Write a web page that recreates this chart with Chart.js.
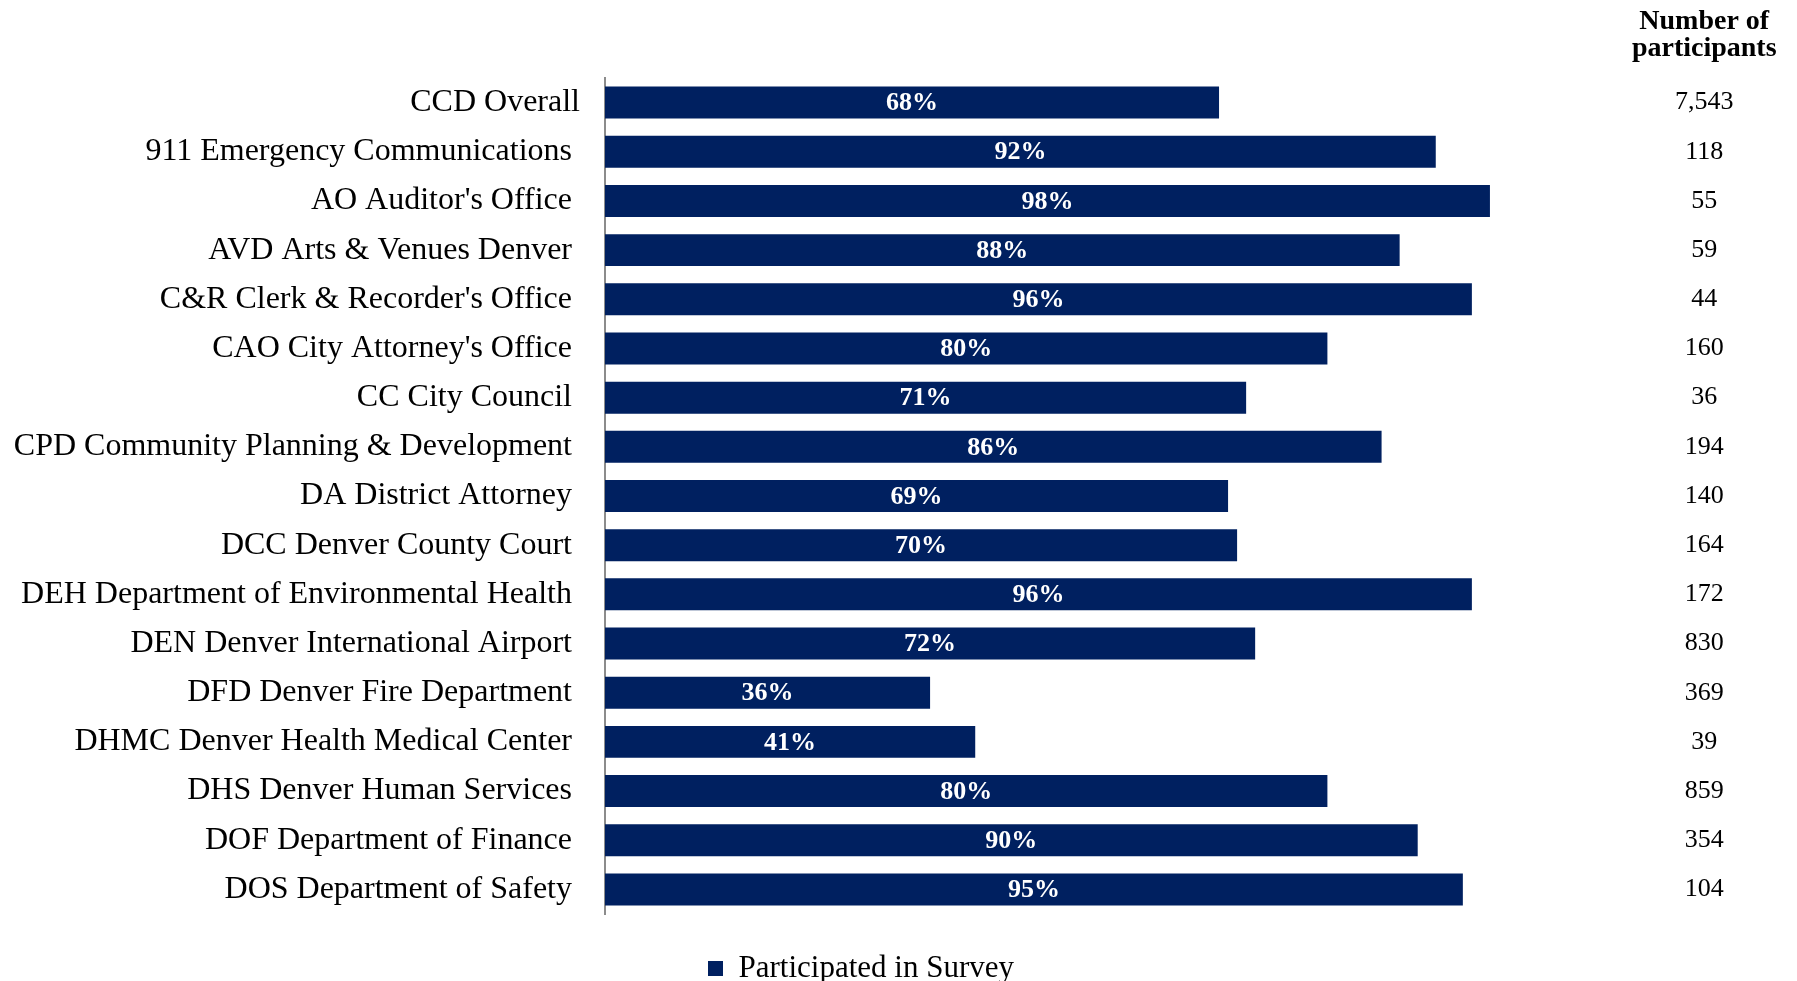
<!DOCTYPE html>
<html>
<head>
<meta charset="utf-8">
<script src="https://cdn.jsdelivr.net/npm/chart.js@4.4.1/dist/chart.umd.min.js"></script>
<style>
  html, body { margin: 0; padding: 0; background: #fff; }
  #wrap { width: 1797px; height: 981px; }
</style>
</head>
<body>
<div id="wrap"><canvas id="surveyChart"></canvas></div>
<script>
  // departments (trailing space kept where the source had it)
  var departments = [
      'CCD Overall',
      '911 Emergency Communications ',
      "AO Auditor's Office ",
      'AVD Arts & Venues Denver ',
      "C&R Clerk & Recorder's Office ",
      "CAO City Attorney's Office ",
      'CC City Council ',
      'CPD Community Planning & Development ',
      'DA District Attorney ',
      'DCC Denver County Court ',
      'DEH Department of Environmental Health ',
      'DEN Denver International Airport ',
      'DFD Denver Fire Department ',
      'DHMC Denver Health Medical Center ',
      'DHS Denver Human Services ',
      'DOF Department of Finance ',
      'DOS Department of Safety '
  ];
  var participated = [68, 92, 98, 88, 96, 80, 71, 86, 69, 70, 96, 72, 36, 41, 80, 90, 95];
  var participants = ['7,543', '118', '55', '59', '44', '160', '36', '194', '140', '164', '172', '830', '369', '39', '859', '354', '104'];
  var headerLines = ['Number of', 'participants'];

  var serif = "'Liberation Serif', 'Times New Roman', serif";
  var navy = '#002060';

  // white % labels inside each bar
  var barLabels = {
      id: 'barLabels',
      afterDatasetsDraw: function(chart) {
          var ctx = chart.ctx;
          var meta = chart.getDatasetMeta(0);
          ctx.save();
          ctx.fillStyle = '#ffffff';
          ctx.font = 'bold 26px ' + serif;
          ctx.textAlign = 'center';
          ctx.textBaseline = 'middle';
          meta.data.forEach(function(bar, i) {
              ctx.fillText(participated[i] + '%', (bar.base + bar.x) / 2, bar.y + 1);
          });
          ctx.restore();
      }
  };

  // "Number of participants" heading over the right column
  var columnHeader = {
      id: 'columnHeader',
      afterDraw: function(chart) {
          var ctx = chart.ctx;
          var y2 = chart.scales.y2;
          ctx.save();
          ctx.font = '26px ' + serif;
          var widest = 0;
          participants.forEach(function(p) { widest = Math.max(widest, ctx.measureText(p).width); });
          var cx = y2.left + y2.options.ticks.padding + widest / 2 + 8;
          ctx.fillStyle = '#000';
          ctx.font = 'bold 28px ' + serif;
          ctx.textAlign = 'center';
          ctx.textBaseline = 'middle';
          headerLines.forEach(function(line, i) {
              ctx.fillText(line, cx, 22 + i * 27);
          });
          ctx.restore();
      }
  };

  // big tick padding on y axes shouldn't eat vertical room
  function noVerticalPadding(scale) {
      scale.paddingTop = 0;
      scale.paddingBottom = 0;
  }

  var surveyCanvas = document.getElementById('surveyChart').getContext('2d');
  var surveyChart = new Chart(surveyCanvas, {
      type: 'bar',
      data: {
          labels: departments,
          datasets: [
              {
                  label: 'Participated in Survey',
                  data: participated,
                  backgroundColor: navy,
                  borderWidth: 0,
                  barPercentage: 0.65,
                  categoryPercentage: 1.0
              }
          ]
      },
      options: {
          indexAxis: 'y',
          responsive: true,
          maintainAspectRatio: false,
          animation: false,
          layout: {
              padding: { top: 78, right: 55, bottom: -13, left: -20 }
          },
          scales: {
              x: {
                  min: 0,
                  max: 100,
                  grid: { display: false },
                  border: { display: false },
                  ticks: { display: false },
                  afterFit: function(scale) { scale.height = 39; }
              },
              y: {
                  position: 'left',
                  grid: { display: true, drawOnChartArea: false, drawTicks: false },
                  border: { display: true, color: '#8c8c8c', width: 2 },
                  ticks: {
                      color: '#000',
                      padding: 25,
                      autoSkip: false,
                      font: { family: serif, size: 32 }
                  },
                  afterFit: function(scale) {
                      scale.width = 625;
                      noVerticalPadding(scale);
                  }
              },
              y2: {
                  type: 'category',
                  position: 'right',
                  labels: participants,
                  grid: { display: false },
                  border: { display: false },
                  ticks: {
                      color: '#000',
                      crossAlign: 'center',
                      autoSkip: false,
                      padding: 159,
                      font: { family: serif, size: 26 }
                  },
                  afterFit: function(scale) {
                      scale.width = 234;
                      noVerticalPadding(scale);
                  }
              }
          },
          plugins: {
              legend: {
                  position: 'bottom',
                  labels: {
                      color: '#000',
                      boxWidth: 15,
                      boxHeight: 15,
                      padding: 0,
                      font: { family: serif, size: 31 }
                  }
              },
              tooltip: { enabled: false }
          }
      },
      plugins: [barLabels, columnHeader]
  });
</script>
</body>
</html>
